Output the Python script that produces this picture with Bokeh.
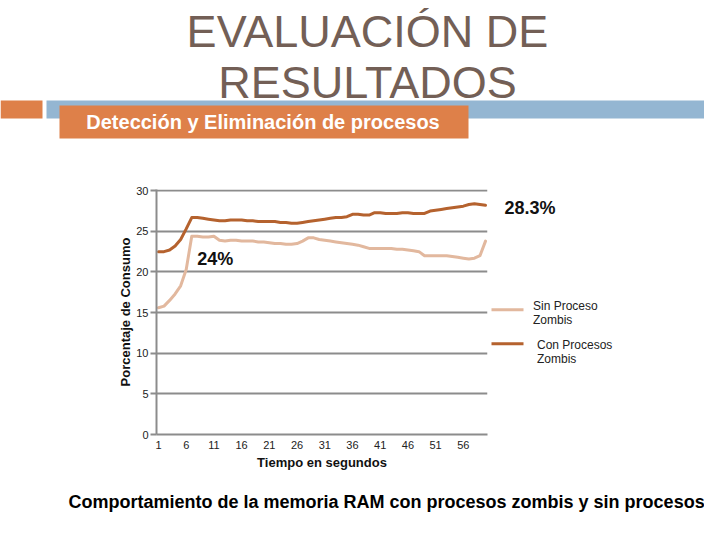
from bokeh.plotting import figure
from bokeh.layouts import column, row
from bokeh.models import Range1d, FixedTicker, Label
from bokeh.core.properties import value
from bokeh.embed import file_html
from bokeh.resources import INLINE

FONT = "Liberation Sans"

# ---------------- data ----------------
segundos = list(range(1, 61))
sin_proceso_zombis = [
    15.6, 15.8, 16.5, 17.3, 18.3, 20.3, 24.4, 24.4, 24.3, 24.3,
    24.4, 23.9, 23.8, 23.9, 23.9, 23.8, 23.8, 23.8, 23.7, 23.7,
    23.6, 23.5, 23.5, 23.4, 23.4, 23.5, 23.8, 24.2, 24.2, 24.0,
    23.9, 23.8, 23.7, 23.6, 23.5, 23.4, 23.3, 23.1, 22.9, 22.9,
    22.9, 22.9, 22.9, 22.8, 22.8, 22.7, 22.6, 22.5, 22.0, 22.0,
    22.0, 22.0, 22.0, 21.9, 21.8, 21.7, 21.6, 21.7, 22.0, 23.8,
]
con_procesos_zombis = [
    22.5, 22.5, 22.7, 23.2, 24.0, 25.3, 26.7, 26.7, 26.6, 26.5,
    26.4, 26.3, 26.3, 26.4, 26.4, 26.4, 26.3, 26.3, 26.2, 26.2,
    26.2, 26.2, 26.1, 26.1, 26.0, 26.0, 26.1, 26.2, 26.3, 26.4,
    26.5, 26.6, 26.7, 26.7, 26.8, 27.1, 27.1, 27.0, 27.0, 27.3,
    27.3, 27.2, 27.2, 27.2, 27.3, 27.3, 27.2, 27.2, 27.2, 27.5,
    27.6, 27.7, 27.8, 27.9, 28.0, 28.1, 28.3, 28.4, 28.3, 28.2,
]
series_names = ["Sin Proceso Zombis", "Con Procesos Zombis"]
series_colors = ["#E2B89E", "#B5622E"]
x_ticks = [1, 6, 11, 16, 21, 26, 31, 36, 41, 46, 51, 56]
y_ticks = [0, 5, 10, 15, 20, 25, 30]
annot_24 = "24%"
annot_283 = "28.3%"

title_lines = ["EVALUACIÓN DE", "RESULTADOS"]
subtitle = "Detección y Eliminación de procesos"
caption = "Comportamiento de la memoria RAM con procesos zombis y sin procesos zombis"
y_label = "Porcentaje de Consumo"
x_label = "Tiempo en segundos"

BORDER_TOP = 39
BORDER_BOTTOM = 41


def deco(w, h, x0, x1, y0, y1, top=0, bottom=0):
    f = figure(width=w, height=h, x_range=Range1d(x0, x1), y_range=Range1d(y1, y0),
               output_backend="svg", toolbar_location=None, min_border=0,
               min_border_top=top, min_border_bottom=bottom)
    f.axis.visible = False
    f.grid.visible = False
    f.outline_line_color = None
    f.background_fill_color = "white"
    f.border_fill_color = "white"
    return f


# ---------------- header ----------------
h = deco(704, 150, 0, 704, 0, 150)
h.quad(left=[0], right=[42], top=[100], bottom=[118], fill_color="#DE8049", line_color=None)
h.quad(left=[46], right=[720], top=[100], bottom=[118], fill_color="#94B6D2", line_color=None)
h.quad(left=[59], right=[468], top=[105], bottom=[138], fill_color="#DE8049", line_color=None)
h.text(x=[367, 367], y=[31, 81.5], text=title_lines, text_font=value(FONT),
       text_font_size=value("45px"), text_color="#735F56", text_align="center",
       text_baseline="middle")
h.text(x=[262.5], y=[121.5], text=[subtitle], text_font=value(FONT), text_font_style="bold",
       text_font_size=value("20px"), text_color="white", text_align="center",
       text_baseline="middle")

# ---------------- chart ----------------
p = figure(width=490, height=325, x_range=Range1d(0.64, 60.36), y_range=Range1d(0, 30.15),
           output_backend="svg", toolbar_location=None,
           min_border_left=156, min_border_right=3,
           min_border_top=BORDER_TOP, min_border_bottom=BORDER_BOTTOM)
p.outline_line_color = None
p.xgrid.visible = False
p.ygrid.ticker = FixedTicker(ticks=y_ticks)
p.ygrid.grid_line_color = "#8C8C8C"
p.ygrid.grid_line_width = 2

p.xaxis.ticker = FixedTicker(ticks=x_ticks)
p.yaxis.ticker = FixedTicker(ticks=y_ticks)
for ax in (p.xaxis[0], p.yaxis[0]):
    ax.axis_line_color = "#8C8C8C"
    ax.axis_line_width = 2
    ax.minor_tick_line_color = None
    ax.major_label_text_font = FONT
    ax.major_label_text_font_size = "11px"
    ax.major_label_text_color = "#222222"
    ax.axis_label_text_font = FONT
    ax.axis_label_text_font_style = "bold"
    ax.axis_label_text_font_size = "13px"
    ax.axis_label_text_color = "#111111"

p.xaxis.major_tick_line_color = None
p.xaxis.major_tick_out = 0
p.xaxis.major_tick_in = 0
p.xaxis.major_label_standoff = 6
p.xaxis.axis_label = x_label
p.xaxis.axis_label_standoff = 3

p.yaxis.major_tick_line_color = "#8C8C8C"
p.yaxis.major_tick_line_width = 2
p.yaxis.major_tick_out = 6
p.yaxis.major_tick_in = 0
p.yaxis.major_label_standoff = 2
p.yaxis.axis_label = y_label
p.yaxis.axis_label_standoff = 0

for ys, c, n in zip([sin_proceso_zombis, con_procesos_zombis], series_colors, series_names):
    p.line(segundos, ys, line_color=c, line_width=3, line_join="round", line_cap="round")

p.add_layout(Label(x=8.0, y=21.6, text=annot_24, text_font=FONT, text_font_style="bold",
                   text_font_size="18px", text_color="#111111", text_baseline="middle",
                   text_align="left"))

# ---------------- legend / right side ----------------
# its frame is aligned with the chart frame (page y 189..434)
lg = deco(214, 325, 490, 704, 150 + BORDER_TOP, 475 - BORDER_BOTTOM,
          top=BORDER_TOP, bottom=BORDER_BOTTOM)
sample_y = [309.3, 343.3]
text_x = [532.5, 536.5]
lg.segment(x0=[491, 491], x1=[523, 523], y0=sample_y, y1=sample_y,
           line_color=series_colors, line_width=3)
for name, ty, tx in zip(series_names, [305, 344.5], text_x):
    first, second = name.rsplit(" ", 1)
    lg.text(x=[tx, tx], y=[ty, ty + 14.2], text=[first, second], text_font=value(FONT),
            text_font_size=value("12px"), text_color="#222222", text_align="left",
            text_baseline="middle")
lg.text(x=[504], y=[207], text=[annot_283], text_font=value(FONT), text_font_style="bold",
        text_font_size=value("18px"), text_color="#111111", text_align="left",
        text_baseline="middle")

# ---------------- caption ----------------
cp = deco(704, 49, 0, 704, 475, 524)
cp.text(x=[68], y=[501.7], text=[caption], text_font=value(FONT), text_font_style="bold",
        text_font_size=value("18px"), text_color="#000000", text_align="left",
        text_baseline="middle")

layout = column(h, row(p, lg), cp)
open("out.html", "w").write(file_html(layout, INLINE))
